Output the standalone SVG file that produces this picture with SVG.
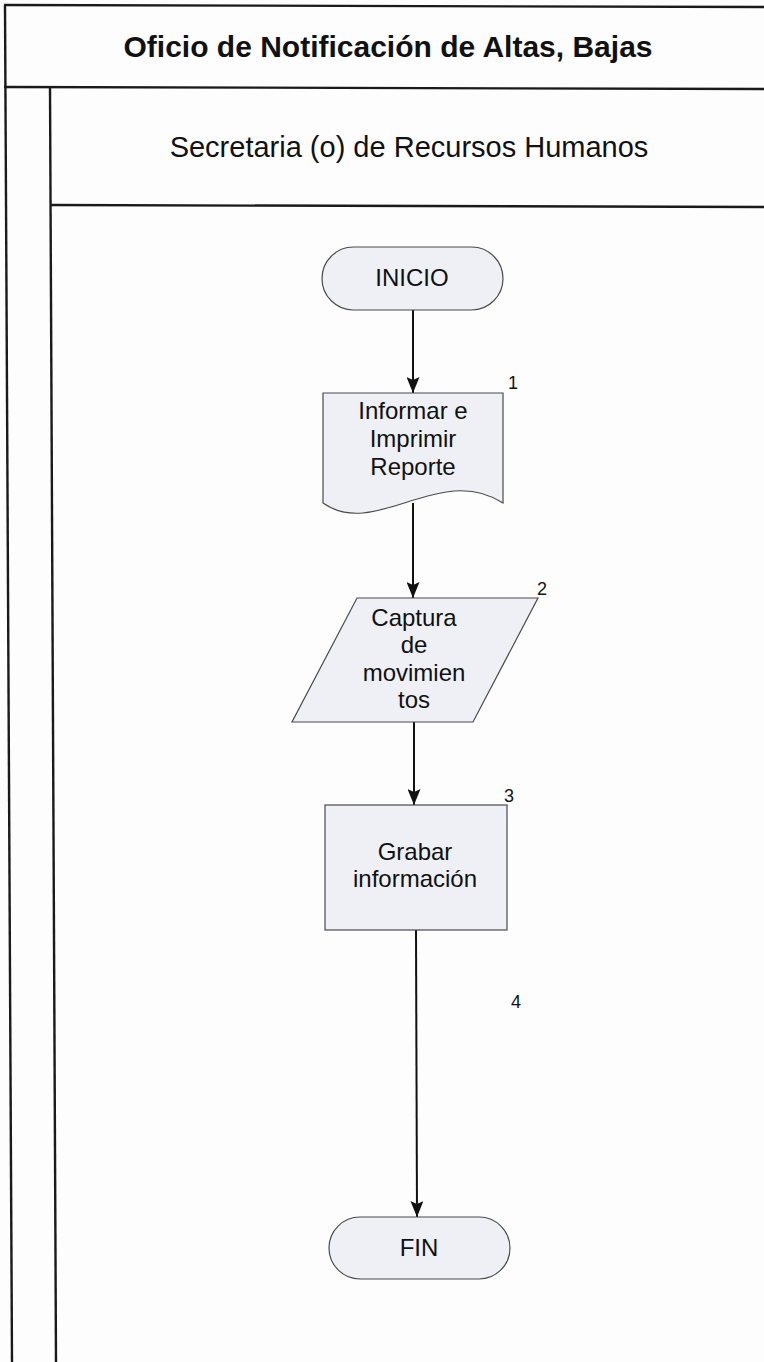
<svg xmlns="http://www.w3.org/2000/svg" width="764" height="1362" viewBox="0 0 764 1362">
  <style>
    .frame { stroke: #1a1a1a; stroke-width: 2.4; fill: none; }
    .node { fill: #eef0f5; stroke: #4a4a4a; stroke-width: 1.2; }
    .lbl { font-family: "Liberation Sans", Arial, sans-serif; font-size: 24px; fill: #111; text-anchor: middle; }
    .num { font-family: "Liberation Sans", Arial, sans-serif; font-size: 18px; fill: #111; }
    .edge { stroke: #111; stroke-width: 2; fill: none; marker-end: url(#arrow); }
  </style>
  <defs>
    <marker id="arrow" viewBox="0 0 16 13" refX="16" refY="6.5" markerWidth="16" markerHeight="13" markerUnits="userSpaceOnUse" orient="auto">
      <path d="M0,0 L16,6.5 L0,13 L3,6.5 z" fill="#111"/>
    </marker>
  </defs>
  <rect x="0" y="0" width="764" height="1362" fill="#fdfdfe"/>

  <g id="frame">
    <line class="frame" x1="4" y1="5" x2="764" y2="7"/>
    <line class="frame" x1="5" y1="5" x2="12" y2="1362"/>
    <line class="frame" x1="4" y1="87" x2="764" y2="89"/>
    <line class="frame" x1="50" y1="87" x2="56" y2="1362"/>
    <line class="frame" x1="50" y1="205" x2="764" y2="207"/>
    <text x="388" y="57" font-family="'Liberation Sans', Arial, sans-serif" font-size="30" font-weight="bold" fill="#111" text-anchor="middle">Oficio de Notificación de Altas, Bajas</text>
    <text x="409" y="157" font-family="'Liberation Sans', Arial, sans-serif" font-size="29" fill="#111" text-anchor="middle">Secretaria (o) de Recursos Humanos</text>
  </g>

  <g id="connectors">
    <line class="edge" x1="413" y1="310" x2="413" y2="393"/>
    <line class="edge" x1="413" y1="503" x2="413" y2="598"/>
    <line class="edge" x1="414" y1="722" x2="414" y2="805"/>
    <line class="edge" x1="416" y1="930" x2="417" y2="1217"/>
  </g>

  <g id="inicio">
    <rect class="node" x="322" y="247" width="181" height="63" rx="31.5" ry="31.5"/>
    <text class="lbl" x="412" y="286">INICIO</text>
  </g>

  <g id="informar">
    <path class="node" d="M323,393 L503,393 L503,503 C440,462 375,540 323,503 Z"/>
    <text class="lbl" x="413" y="419">Informar e</text>
    <text class="lbl" x="413" y="447">Imprimir</text>
    <text class="lbl" x="413" y="475">Reporte</text>
    <text class="num" x="508" y="389">1</text>
  </g>

  <g id="captura">
    <polygon class="node" points="357,598 538,598 473,722 292,722"/>
    <text class="lbl" x="414" y="626">Captura</text>
    <text class="lbl" x="414" y="653">de</text>
    <text class="lbl" x="414" y="681">movimien</text>
    <text class="lbl" x="414" y="708">tos</text>
    <text class="num" x="537" y="595">2</text>
  </g>

  <g id="grabar">
    <rect class="node" x="325" y="805" width="182" height="125"/>
    <text class="lbl" x="415" y="860">Grabar</text>
    <text class="lbl" x="415" y="887">información</text>
    <text class="num" x="504" y="802">3</text>
  </g>

  <g id="paso4">
    <text class="num" x="511" y="1008">4</text>
  </g>

  <g id="fin">
    <rect class="node" x="329" y="1217" width="181" height="62" rx="31" ry="31"/>
    <text class="lbl" x="419" y="1256">FIN</text>
  </g>
</svg>
